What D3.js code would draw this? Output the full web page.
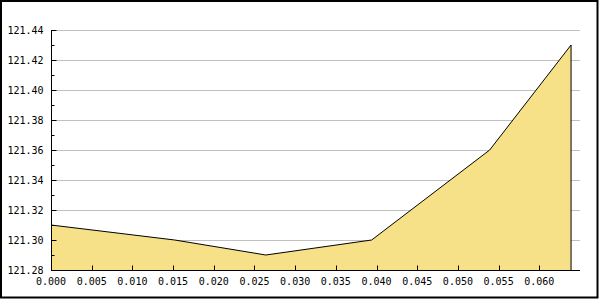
<!DOCTYPE html>
<html>
<head>
<meta charset="utf-8">
<script src="https://cdn.jsdelivr.net/npm/d3@7"></script>
<style>
  body { margin: 0; background: #fff; }
  text { font-family: "DejaVu Sans Mono", monospace; font-size: 10px; fill: #000; }
</style>
</head>
<body>
<script>
  // data
  var xValues = [0, 0.0152, 0.0264, 0.0394, 0.0539, 0.0639],
      yValues = [121.31, 121.30, 121.29, 121.30, 121.36, 121.43],
      xTicks = [0, 0.005, 0.010, 0.015, 0.020, 0.025, 0.030, 0.035, 0.040, 0.045, 0.050, 0.055, 0.060],
      yTicks = [121.28, 121.30, 121.32, 121.34, 121.36, 121.38, 121.40, 121.42, 121.44],
      yMinor = [121.29, 121.31, 121.33, 121.35, 121.37, 121.39, 121.41, 121.43];

  // plot box (window.top is reserved, hence pTop)
  var W = 600, H = 300,
      pLeft = 51, pRight = 580, pTop = 30, pBottom = 270;

  var svg = d3.select('body').append('svg')
    .attr('width', W)
    .attr('height', H);

  var x = d3.scaleLinear().domain([0, 0.065]).range([pLeft, pRight]),
      y = d3.scaleLinear().domain([121.28, 121.44]).range([pBottom, pTop]);

  var pts = xValues.map(function (d, i) { return [d, yValues[i]]; });

  var snap = function (v) { return Math.round(v) + 0.5; };

  // grid
  svg.append('g').selectAll('line')
    .data(yTicks.slice(1))
    .enter().append('line')
    .attr('x1', pLeft).attr('x2', pRight)
    .attr('y1', function (d) { return snap(y(d)); })
    .attr('y2', function (d) { return snap(y(d)); })
    .attr('stroke', '#c0c0c0');

  // area
  var area = d3.area()
    .x(function (d) { return x(d[0]); })
    .y0(y(121.28))
    .y1(function (d) { return y(d[1]); });

  svg.append('path')
    .datum(pts)
    .attr('d', area)
    .attr('fill', '#f6e188');

  var line = d3.line()
    .x(function (d) { return x(d[0]); })
    .y(function (d) { return y(d[1]); });

  var last = pts[pts.length - 1];
  svg.append('path')
    .datum(pts.concat([[last[0], 121.28]]))
    .attr('d', line)
    .attr('fill', 'none')
    .attr('stroke', '#000')
    .attr('stroke-width', 1);

  // y axis
  var yAxis = svg.append('g').attr('transform', 'translate(' + (pLeft + 0.5) + ',0)');
  yAxis.append('line')
    .attr('y1', pTop).attr('y2', pBottom + 0.5)
    .attr('stroke', '#000');
  yAxis.selectAll('.maj')
    .data(yTicks)
    .enter().append('line')
    .attr('class', 'maj')
    .attr('x1', 0).attr('x2', 5)
    .attr('y1', function (d) { return snap(y(d)); })
    .attr('y2', function (d) { return snap(y(d)); })
    .attr('stroke', '#000');
  yAxis.selectAll('.min')
    .data(yMinor)
    .enter().append('line')
    .attr('class', 'min')
    .attr('x1', 0).attr('x2', 3)
    .attr('y1', function (d) { return snap(y(d)); })
    .attr('y2', function (d) { return snap(y(d)); })
    .attr('stroke', '#000');
  yAxis.selectAll('text')
    .data(yTicks)
    .enter().append('text')
    .attr('x', -8)
    .attr('y', function (d) { return y(d); })
    .attr('dy', '0.35em')
    .attr('text-anchor', 'end')
    .text(d3.format('.2f'));

  // x axis
  var xAxis = svg.append('g').attr('transform', 'translate(0,' + (pBottom + 0.5) + ')');
  xAxis.append('line')
    .attr('x1', pLeft).attr('x2', pRight)
    .attr('stroke', '#000');
  xAxis.selectAll('line.t')
    .data(xTicks)
    .enter().append('line')
    .attr('class', 't')
    .attr('x1', function (d) { return snap(x(d)); })
    .attr('x2', function (d) { return snap(x(d)); })
    .attr('y1', 0).attr('y2', -5)
    .attr('stroke', '#000');
  xAxis.selectAll('text')
    .data(xTicks)
    .enter().append('text')
    .attr('x', function (d) { return x(d); })
    .attr('y', 11)
    .attr('dy', '0.35em')
    .attr('text-anchor', 'middle')
    .text(d3.format('.3f'));

  // frame
  svg.append('rect')
    .attr('x', 1).attr('y', 1)
    .attr('width', 596.5).attr('height', 296.5)
    .attr('fill', 'none')
    .attr('stroke', '#000')
    .attr('stroke-width', 2);
</script>
</body>
</html>
